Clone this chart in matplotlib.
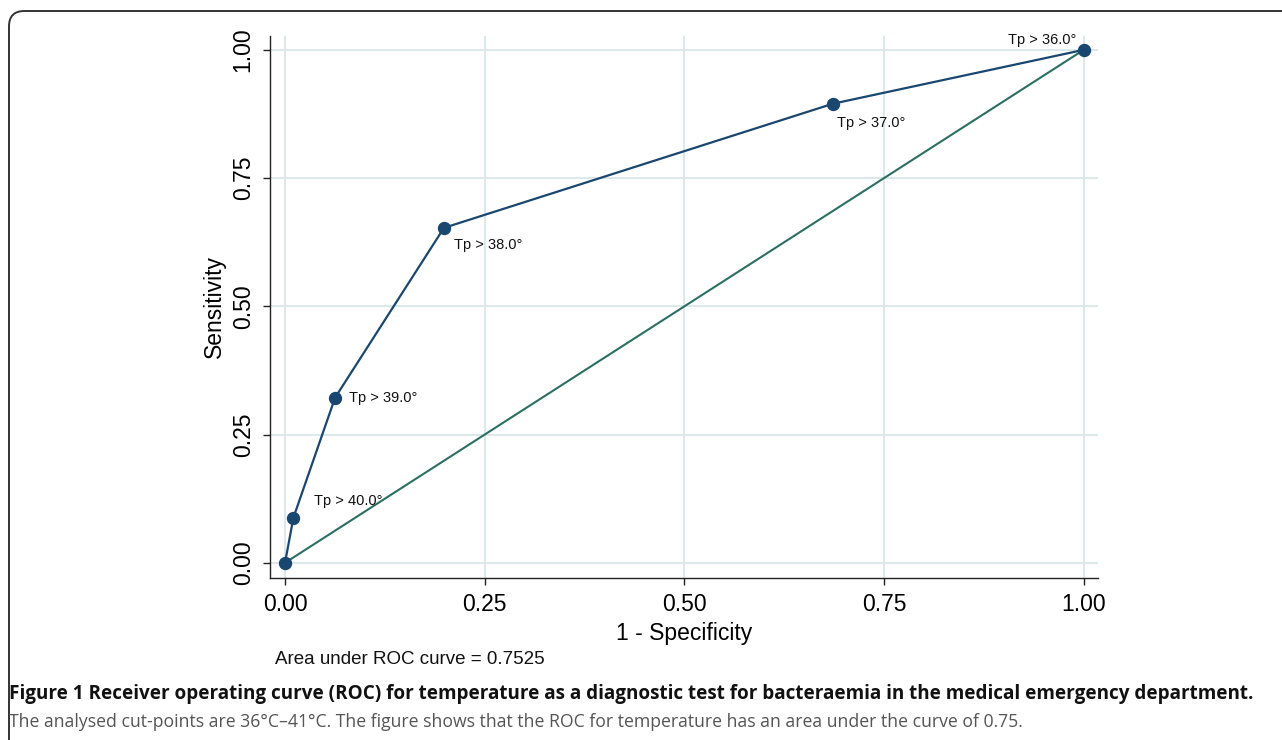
import matplotlib
matplotlib.use("Agg")
import matplotlib.pyplot as plt
from matplotlib.patches import FancyBboxPatch

# ---- data ----
fpr = [0.0, 0.0105, 0.0627, 0.199, 0.686, 1.0]
sens = [0.0, 0.088, 0.322, 0.653, 0.895, 1.0]
labels = [None, "Tp > 40.0°", "Tp > 39.0°", "Tp > 38.0°", "Tp > 37.0°", "Tp > 36.0°"]
ticks = [0.0, 0.25, 0.5, 0.75, 1.0]
tick_labels = ["0.00", "0.25", "0.50", "0.75", "1.00"]
ref_x = [0.0, 1.0]
ref_y = [0.0, 1.0]
auc_text = "Area under ROC curve = 0.7525"
cap_bold = "Figure 1 Receiver operating curve (ROC) for temperature as a diagnostic test for bacteraemia in the medical emergency department."
cap_light = "The analysed cut-points are 36°C–41°C. The figure shows that the ROC for temperature has an area under the curve of 0.75."

W, H = 1282, 740
fig = plt.figure(figsize=(W / 100, H / 100), dpi=100)
plt.rcParams['font.family'] = ['Liberation Sans', 'DejaVu Sans']

# outer rounded border (right/bottom edges are outside the image)
border = FancyBboxPatch((9 / W, 1 - 760 / H), 1300 / W, (760 - 11) / H,
                        boxstyle="round,pad=0,rounding_size=0.012",
                        transform=fig.transFigure, fill=False,
                        edgecolor="#333333", linewidth=1.4, mutation_aspect=W / H)
fig.add_artist(border)

ax = fig.add_axes([270 / W, 1 - 577.7 / H, (1097.7 - 270) / W, (577.7 - 36) / H])
ax.set_xlim(-0.0188, 1.0175)
ax.set_ylim(-0.029, 1.027)

blue = "#1a476f"
green = "#2b6f62"
grid = "#dde8ea"

for s in ["top", "right"]:
    ax.spines[s].set_visible(False)
for s in ["left", "bottom"]:
    ax.spines[s].set_linewidth(1.0)
    ax.spines[s].set_color("#222222")

ax.set_xticks(ticks)
ax.set_xticklabels(tick_labels)
ax.set_yticks(ticks)
ax.set_yticklabels(tick_labels, rotation=90, va="center")
ax.tick_params(axis="both", direction="out", length=5, width=1.0,
               color="#222222", labelsize=16.5, pad=6)
ax.grid(True, color=grid, linewidth=1.5)
ax.set_axisbelow(True)

ax.plot(ref_x, ref_y, color=green, linewidth=1.5, zorder=3)
ax.plot(fpr, sens, color=blue, linewidth=1.6, marker="o", markersize=8.6,
        markerfacecolor=blue, markeredgecolor=blue, zorder=4)

offsets = {
    "Tp > 40.0°": ((15, 7), "left", "bottom"),
    "Tp > 39.0°": ((10, 0), "left", "center"),
    "Tp > 38.0°": ((7, -12), "left", "center"),
    "Tp > 37.0°": ((3, -14), "left", "center"),
    "Tp > 36.0°": ((-5, 7), "right", "center"),
}
for x, y, lab in zip(fpr, sens, labels):
    if lab is None:
        continue
    (dx, dy), ha, va = offsets[lab]
    ax.annotate(lab, (x, y), xytext=(dx, dy), textcoords="offset points",
                ha=ha, va=va, fontsize=10.5, color="#111111", zorder=5)

ax.set_xlabel("1 - Specificity", fontsize=16.5, labelpad=4)
ax.set_ylabel("Sensitivity", fontsize=16.5, labelpad=4)

fig.text(275 / W, 1 - 660 / H, auc_text, fontsize=13.5, ha="left", va="center",
         color="#111111")

# captions, fitted to their measured width
fig.canvas.draw()
r = fig.canvas.get_renderer()

def fit_text(x, y, s, target_px, base, **kw):
    t = fig.text(x / W, 1 - y / H, s, fontsize=base, ha="left", va="center",
                 family=['Open Sans', 'DejaVu Sans'], **kw)
    w = t.get_window_extent(renderer=r).width
    t.set_fontsize(base * target_px / w)
    return t

fit_text(9, 694, cap_bold, 1258 - 9, 14, fontweight="bold", color="#111111")
fit_text(9, 722, cap_light, 1029 - 9, 14, color="#555555")

fig.savefig("out.png", dpi=100)
